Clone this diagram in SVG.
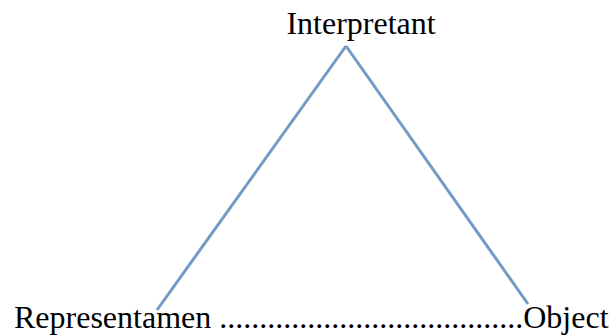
<svg xmlns="http://www.w3.org/2000/svg" width="610" height="335" viewBox="0 0 610 335">
<style>
.t{font-family:"Liberation Serif","Times New Roman",serif;font-size:32px;fill:#000}
.e{stroke:#7399c6;stroke-width:3;fill:none;stroke-linecap:butt}
</style>
<rect width="610" height="335" fill="#fff"/>
<g id="connectors">
<line class="e" x1="157" y1="310" x2="346" y2="46"/>
<line class="e" x1="346" y1="46" x2="528" y2="304"/>
</g>
<g id="interpretant"><text class="t" x="361" y="34" text-anchor="middle">Interpretant</text></g>
<g id="base"><text class="t" x="14" y="328">Representamen ......................................Object</text></g>
</svg>
